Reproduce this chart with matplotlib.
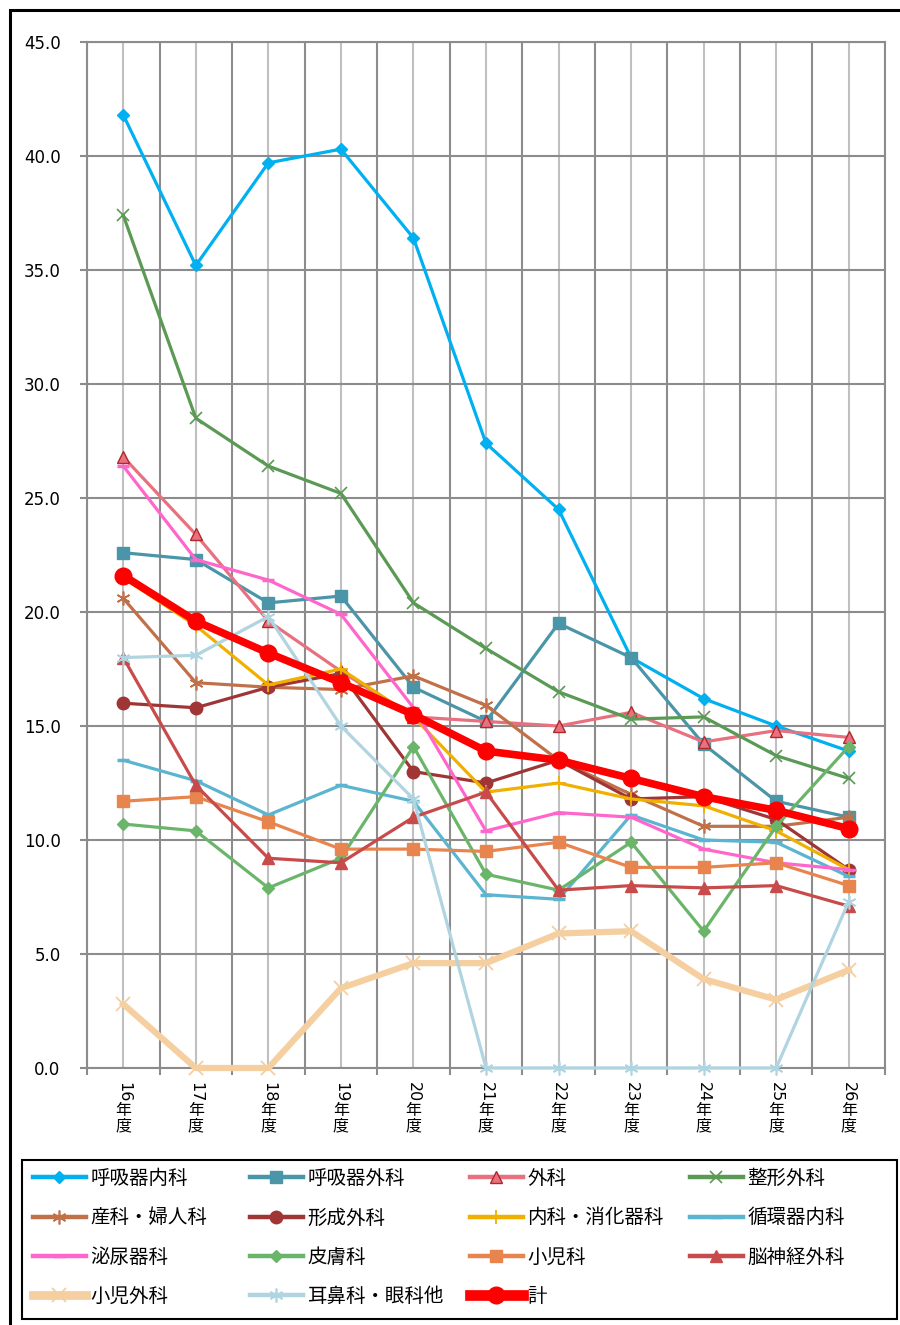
import matplotlib
matplotlib.use("Agg")
import matplotlib.pyplot as plt
from matplotlib.patches import Rectangle

plt.rcParams['font.family'] = ['DejaVu Sans', 'Noto Sans CJK JP']

years = ["16", "17", "18", "19", "20", "21", "22", "23", "24", "25", "26"]

names = ["呼吸器内科", "呼吸器外科", "外科", "整形外科",
         "産科・婦人科", "形成外科", "内科・消化器科", "循環器内科",
         "泌尿器科", "皮膚科", "小児科", "脳神経外科",
         "小児外科", "耳鼻科・眼科他", "計"]

kokyuki_naika = [41.8, 35.2, 39.7, 40.3, 36.4, 27.4, 24.5, 18.0, 16.2, 15.0, 13.9]
kokyuki_geka = [22.6, 22.3, 20.4, 20.7, 16.7, 15.2, 19.5, 18.0, 14.2, 11.7, 11.0]
geka = [26.8, 23.4, 19.6, 17.4, 15.4, 15.2, 15.0, 15.6, 14.3, 14.8, 14.5]
seikei_geka = [37.4, 28.5, 26.4, 25.2, 20.4, 18.4, 16.5, 15.3, 15.4, 13.7, 12.7]
sanka_fujinka = [20.6, 16.9, 16.7, 16.6, 17.2, 15.9, 13.5, 12.0, 10.6, 10.6, 11.0]
keisei_geka = [16.0, 15.8, 16.7, 17.3, 13.0, 12.5, 13.5, 11.8, 11.9, 10.9, 8.7]
naika_shoukaki = [21.5, 19.4, 16.8, 17.5, 15.4, 12.1, 12.5, 11.8, 11.5, 10.4, 8.7]
junkanki_naika = [13.5, 12.6, 11.1, 12.4, 11.7, 7.6, 7.4, 11.1, 10.0, 9.9, 8.4]
hinyoki = [26.4, 22.3, 21.4, 19.9, 15.8, 10.4, 11.2, 11.0, 9.6, 9.0, 8.7]
hifu = [10.7, 10.4, 7.9, 9.2, 14.1, 8.5, 7.8, 9.9, 6.0, 10.6, 14.1]
shouni = [11.7, 11.9, 10.8, 9.6, 9.6, 9.5, 9.9, 8.8, 8.8, 9.0, 8.0]
noushinkei = [18.0, 12.4, 9.2, 9.0, 11.0, 12.1, 7.8, 8.0, 7.9, 8.0, 7.1]
shouni_geka = [2.8, 0.0, 0.0, 3.5, 4.6, 4.6, 5.9, 6.0, 3.9, 3.0, 4.3]
jibi_ganka = [18.0, 18.1, 19.8, 15.0, 11.8, 0.0, 0.0, 0.0, 0.0, 0.0, 7.3]
total = [21.6, 19.6, 18.2, 16.9, 15.5, 13.9, 13.5, 12.7, 11.9, 11.3, 10.5]

series = [kokyuki_naika, kokyuki_geka, geka, seikei_geka,
          sanka_fujinka, keisei_geka, naika_shoukaki, junkanki_naika,
          hinyoki, hifu, shouni, noushinkei,
          shouni_geka, jibi_ganka, total]

asterisk = (6, 2, 0)
# color, marker, markersize, markerface, markeredge, linewidth, mew
styles = [
    ("#00B0F0", "D", 6.5, "#00B0F0", "#00B0F0", 2.3, 1.0),
    ("#4A96A8", "s", 8.5, "#4A96A8", "#4A96A8", 2.3, 1.0),
    ("#E8707F", "^", 8.5, "#E8707F", "#B02828", 2.3, 1.0),
    ("#5A9A55", "x", 8.5, "#5A9A55", "#5A9A55", 2.3, 1.2),
    ("#C0714A", asterisk, 10, "#C0714A", "#C0714A", 2.3, 1.2),
    ("#A03535", "o", 9, "#A03535", "#A03535", 2.3, 1.0),
    ("#F0B000", "+", 10, "#F0B000", "#F0B000", 2.3, 1.3),
    ("#5BB5D0", "_", 8, "#5BB5D0", "#5BB5D0", 2.3, 2.5),
    ("#FF66CC", "_", 8, "#FF66CC", "#FF66CC", 2.3, 2.5),
    ("#6BB56B", "D", 6.5, "#6BB56B", "#6BB56B", 2.3, 1.0),
    ("#E8854F", "s", 8.5, "#E8854F", "#E8854F", 2.3, 1.0),
    ("#C84B4B", "^", 8.5, "#C84B4B", "#C84B4B", 2.3, 1.0),
    ("#F5CFA0", "x", 10, "#F5CFA0", "#F5CFA0", 4.5, 1.3),
    ("#B0D4E0", asterisk, 10, "#B0D4E0", "#B0D4E0", 2.3, 1.2),
    ("#FF0000", "o", 12, "#FF0000", "#FF0000", 5.5, 1.0),
]

W, H = 900, 1325
fig = plt.figure(figsize=(W / 100, H / 100), dpi=100)
ax = fig.add_axes([87 / W, 1 - 1068 / H, (885 - 87) / W, (1068 - 42) / H])

x = list(range(len(years)))
handles = []
for name, vals, st in zip(names, series, styles):
    c, m, ms, mfc, mec, lw, mew = st
    ln, = ax.plot(x, vals, color=c, marker=m, markersize=ms, markerfacecolor=mfc,
                  markeredgecolor=mec, linewidth=lw, markeredgewidth=mew,
                  label=name, zorder=3, clip_on=False)
    handles.append(ln)

ax.set_xlim(-0.5, len(years) - 0.5)
ax.set_ylim(0, 45)
ax.set_yticks([0, 5, 10, 15, 20, 25, 30, 35, 40, 45])
ax.set_yticklabels([f"{v:.1f}" for v in ax.get_yticks()], fontsize=12)

grid_dark = "#8C8C8C"
grid_light = "#C0C0C0"
ax.set_xticks(x)
ax.set_xticks([i + 0.5 for i in range(-1, len(years))], minor=True)
ax.grid(False)
for i in x:
    ax.axvline(i, color=grid_light, lw=1.5, zorder=1)
for i in range(-1, len(years)):
    ax.axvline(i + 0.5, color=grid_dark, lw=1.5, zorder=1)
for v in ax.get_yticks():
    ax.axhline(v, color=grid_dark, lw=1.5, zorder=1)
for sp in ax.spines.values():
    sp.set_color(grid_dark)
    sp.set_linewidth(1.5)

ax.tick_params(axis='y', length=5, color=grid_dark, width=1.5, pad=14)
ax.tick_params(axis='x', which='major', length=0, pad=10)
ax.tick_params(axis='x', which='minor', length=5, color=grid_dark, width=1.5)
ax.set_xticklabels(years, rotation=270, fontsize=11.5, va='top', ha='center')
for i in x:
    ax.annotate("年\n度", xy=(i, 0), xycoords=ax.get_xaxis_transform(),
                xytext=(0, -25), textcoords='offset points', ha='center', va='top',
                fontsize=11.5, linespacing=1.05)

# legend: four columns placed individually
fs = 14
col_x = [33, 250, 470, 690]
leg_top_y = 1169
for ci in range(4):
    hs = handles[ci::4]
    leg = fig.legend(handles=hs, labels=[h.get_label() for h in hs],
                     loc='upper left', bbox_to_anchor=(col_x[ci] / W, 1 - leg_top_y / H),
                     frameon=False, fontsize=fs, handlelength=2.7, handletextpad=0.25,
                     borderpad=0, borderaxespad=0, labelspacing=1.05)
    for lh in leg.legend_handles:
        lh.set_linewidth(lh.get_linewidth() * 1.4)

fig.patches.append(Rectangle((22 / W, 1 - 1319 / H), (897 - 22) / W, (1319 - 1160) / H,
                             transform=fig.transFigure, fill=False, edgecolor='black',
                             lw=1.5))
fig.patches.append(Rectangle((10 / W, -0.01), 1.0, 1 - 10 / H + 0.01,
                             transform=fig.transFigure, fill=False, edgecolor='black',
                             lw=2.2))

fig.savefig("out.png", dpi=100)
